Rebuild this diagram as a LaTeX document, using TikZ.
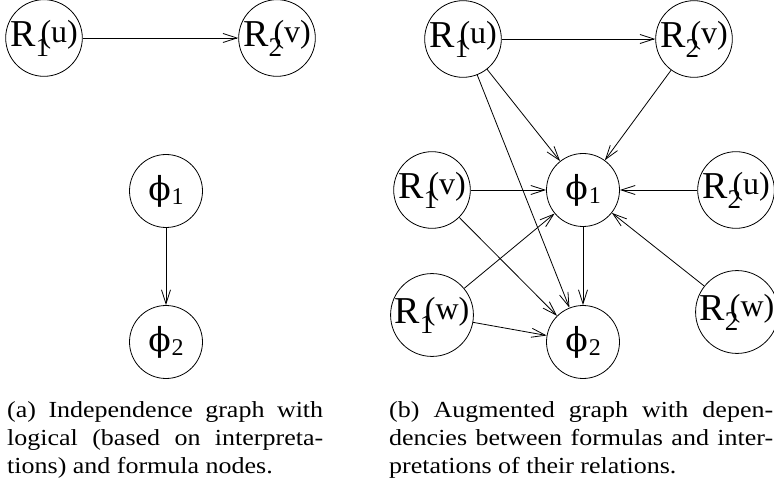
\documentclass[tikz,border=0pt]{standalone}
\usepackage{fontspec}
\setmainfont{Liberation Serif}
\newfontfamily\capfont[FakeStretch=1.13]{Liberation Serif}
\newfontfamily\grkfont{DejaVu Serif}
\usetikzlibrary{arrows.meta}
% relation and formula labels
\newcommand{\rel}[2]{R\rlap{\raisebox{-10pt}{\fontsize{27}{27}\selectfont #1}}\kern5pt\raisebox{4pt}{\fontsize{32}{32}\selectfont (#2)}}
\newcommand{\frm}[1]{{\grkfont\fontsize{33}{33}\selectfont ϕ}\kern1pt\raisebox{-4pt}{\fontsize{24}{24}\selectfont #1}}

\begin{document}
\begin{tikzpicture}[x=1pt,y=-1pt,
    var/.style={circle,draw,line width=0.8pt,minimum size=73pt,inner sep=0pt,font=\fontsize{38}{38}\selectfont},
    arr/.style={-{Straight Barb[length=14pt,width=9pt]},line width=0.8pt},
    captext/.style={anchor=north west,inner sep=0pt,align=justify,font=\capfont\fontsize{23}{28}\selectfont}]
    \useasboundingbox (0,0) rectangle (774,489);
    % (a) independence graph
    \node[var] (aRu) at (44,38) {\rel{1}{u}};
    \node[var] (aRv) at (277,38) {\rel{2}{v}};
    \node[var] (af1) at (166,191) {\frm{1}};
    \node[var] (af2) at (166,342) {\frm{2}};
    \draw[arr] (aRu) -- (aRv);
    \draw[arr] (af1) -- (af2);
    % (b) augmented graph
    \node[var] (Ru1) at (463,39) {\rel{1}{u}};
    \node[var] (Rv2) at (694,39) {\rel{2}{v}};
    \node[var] (Rv1) at (432,190) {\rel{1}{v}};
    \node[var] (f1) at (583,190) {\frm{1}};
    \node[var] (Ru2) at (736,190) {\rel{2}{u}};
    \node[var] (Rw1) at (432,315) {\rel{1}{w}};
    \node[var] (f2) at (583,342) {\frm{2}};
    \node[var] (Rw2) at (737,312) {\rel{2}{w}};
    \foreach \s/\t in {Ru1/Rv2, Ru1/f1, Ru1/f2, Rv2/f1, Rv1/f1, Rv1/f2,
                       Ru2/f1, Rw1/f1, Rw1/f2, Rw2/f1, f1/f2}
        \draw[arr] (\s) -- (\t);
    % captions
    \node[captext,text width=316pt] (capa) at (7,401)
        {(a) Independence graph with\linebreak logical (based on interpreta-\linebreak tions) and formula nodes.};
    \node[captext,text width=384pt] (capb) at (389,401)
        {(b) Augmented graph with depen-\linebreak dencies between formulas and inter-\linebreak pretations of their relations.};
\end{tikzpicture}
\end{document}
